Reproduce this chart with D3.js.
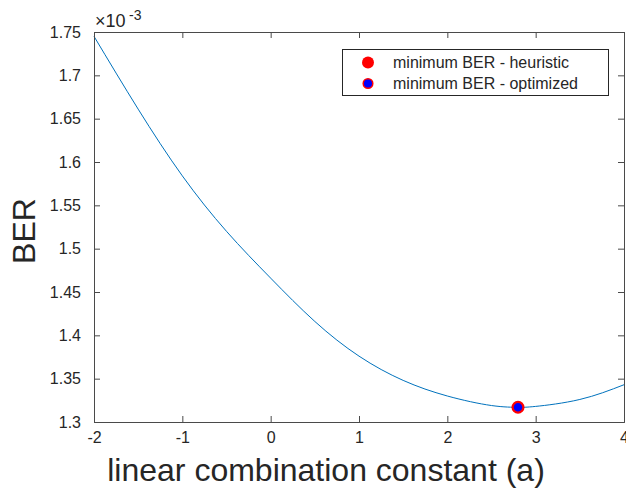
<!DOCTYPE html>
<html>
<head>
<meta charset="utf-8">
<script src="https://cdn.jsdelivr.net/npm/d3@7"></script>
<style>
  body { margin: 0; background: #fff; }
  text { font-family: "Liberation Sans", Arial, sans-serif; fill: #262626; }
</style>
</head>
<body>
<div id="vis"></div>
<script>
// combination constant a vs BER (x1e-3)
const aValues = [-2, -1.5, -1, -0.5, 0, 0.5, 1, 1.5, 2, 2.5, 2.8, 3, 3.5, 4];
const berValues = [1.745, 1.661, 1.584, 1.520, 1.466, 1.416, 1.376, 1.348, 1.330, 1.319, 1.317, 1.318, 1.326, 1.343];

const xTicks = [-2, -1, 0, 1, 2, 3, 4];
const yTicks = [1.3, 1.35, 1.4, 1.45, 1.5, 1.55, 1.6, 1.65, 1.7, 1.75];

const heuristic = { a: 2.8, ber: 1.317 };
const optimized = { a: 2.8, ber: 1.317 };
const legendLabels = ['minimum BER - heuristic', 'minimum BER - optimized'];

const W = 626, H = 489;
const margin = { top: 32, right: 2, bottom: 67, left: 94 };
const width = W - margin.left - margin.right;
const height = H - margin.top - margin.bottom;
const axisColor = '#4a4a4a';

const svg = d3.select('#vis')
    .append('svg')
    .attr('width', W)
    .attr('height', H);

const g = svg.append('g')
    .attr('transform', `translate(${margin.left},${margin.top})`);

const xScale = d3.scaleLinear().domain([-2, 4]).range([0, width]);
const yScale = d3.scaleLinear().domain([1.3, 1.75]).range([height, 0]);

// curve
const data = aValues.map((a, i) => ({ a: a, ber: berValues[i] }));
g.append('path')
    .datum(data)
    .attr('fill', 'none')
    .attr('stroke', '#0072BD')
    .attr('stroke-width', 1)
    .attr('d', d3.line().x(d => xScale(d.a)).y(d => yScale(d.ber)).curve(d3.curveNatural));

// axes with inward ticks on all four sides
const xAxis = d3.axisBottom(xScale).tickValues(xTicks).tickSize(-6).tickPadding(10).tickFormat(d => String(d));
const yAxis = d3.axisLeft(yScale).tickValues(yTicks).tickSize(-6).tickPadding(13).tickFormat(d => String(+d.toFixed(2)));

const gx = g.append('g').attr('transform', `translate(0,${height})`).call(xAxis);
const gy = g.append('g').call(yAxis);
const gxTop = g.append('g').call(d3.axisTop(xScale).tickValues(xTicks).tickSize(-6).tickFormat(''));
const gyRight = g.append('g').attr('transform', `translate(${width},0)`)
    .call(d3.axisRight(yScale).tickValues(yTicks).tickSize(-6).tickFormat(''));

[gx, gy, gxTop, gyRight].forEach(a => {
    a.select('.domain').attr('stroke', axisColor).attr('stroke-width', 1);
    a.selectAll('.tick line').attr('stroke', axisColor);
    a.selectAll('.tick text').attr('fill', '#262626')
        .style('font-size', '16px')
        .style('font-family', '"Liberation Sans", Arial, sans-serif');
});

// exponent label (x10^-3)
svg.append('text')
    .attr('x', 95)
    .attr('y', 27)
    .attr('font-size', 18)
    .style('font-size', '18px')
    .text('\u00d7' + '10');
svg.append('text')
    .attr('x', 129)
    .attr('y', 20)
    .style('font-size', '14px')
    .text('-3');

// axis labels
svg.append('text')
    .attr('x', 326)
    .attr('y', 481)
    .attr('text-anchor', 'middle')
    .style('font-size', '32px')
    .text('linear combination constant (a)');

svg.append('text')
    .attr('transform', `translate(35,231) rotate(-90)`)
    .attr('text-anchor', 'middle')
    .style('font-size', '32px')
    .text('BER');

// minimum markers
g.append('circle')
    .attr('cx', xScale(heuristic.a))
    .attr('cy', yScale(heuristic.ber))
    .attr('r', 6.5)
    .attr('fill', '#ff0000');

g.append('circle')
    .attr('cx', xScale(optimized.a))
    .attr('cy', yScale(optimized.ber))
    .attr('r', 5)
    .attr('fill', '#0000ff')
    .attr('stroke', '#ff0000')
    .attr('stroke-width', 1.5);

// legend
const legend = svg.append('g');
legend.append('rect')
    .attr('x', 342.5).attr('y', 49.5)
    .attr('width', 266).attr('height', 46)
    .attr('fill', '#fff')
    .attr('stroke', '#262626')
    .attr('stroke-width', 1);

legendLabels.forEach((label, i) => {
    const yy = 62.5 + i * 21;
    if (i === 0) {
        legend.append('circle').attr('cx', 368).attr('cy', yy).attr('r', 6).attr('fill', '#ff0000');
    } else {
        legend.append('circle').attr('cx', 368).attr('cy', yy).attr('r', 4.8)
            .attr('fill', '#0000ff').attr('stroke', '#ff0000').attr('stroke-width', 1.5);
    }
    legend.append('text')
        .attr('x', 393)
        .attr('y', yy + 5.5)
        .style('font-size', '16px')
        .text(label);
});
</script>
</body>
</html>
